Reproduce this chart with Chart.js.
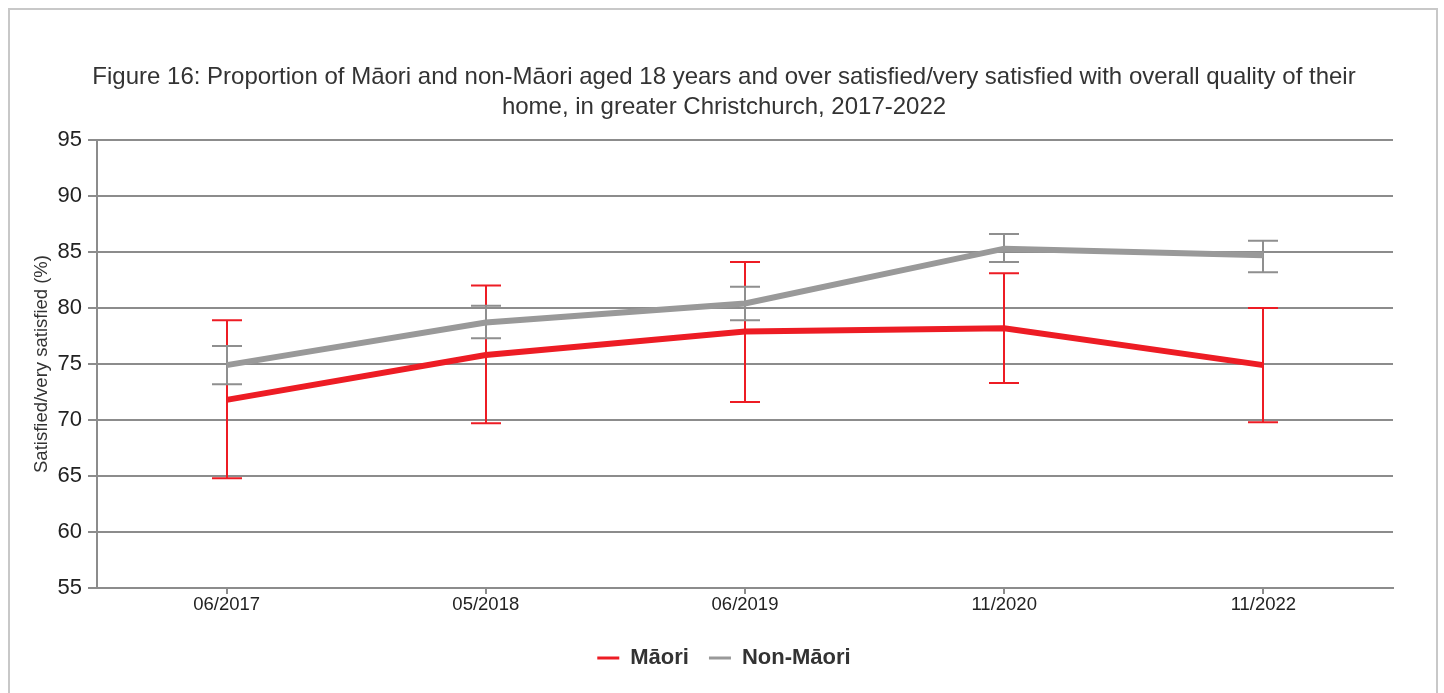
<!DOCTYPE html>
<html>
<head>
<meta charset="utf-8">
<script src="https://cdn.jsdelivr.net/npm/chart.js@4.4.0/dist/chart.umd.min.js"></script>
<style>
  html, body { margin:0; padding:0; background:#fff; overflow:hidden; }
  #frame { position:absolute; left:8px; top:8px; width:1426px; height:800px; border:2px solid #c8c8c8; }
  #chart { position:absolute; left:0; top:0; }
</style>
</head>
<body>
<div id="frame"></div>
<canvas id="chart" width="1444" height="693"></canvas>
<script>
// data
const categories = ['06/2017', '05/2018', '06/2019', '11/2020', '11/2022'];

const maori      = [71.8, 75.8, 77.9, 78.2, 74.9];
const maoriLow   = [64.8, 69.7, 71.6, 73.3, 69.8];
const maoriHigh  = [78.9, 82.0, 84.1, 83.1, 80.0];

const nonMaori     = [74.9, 78.7, 80.4, 85.3, 84.7];
const nonMaoriLow  = [73.2, 77.3, 78.9, 84.1, 83.2];
const nonMaoriHigh = [76.6, 80.2, 81.9, 86.6, 86.0];

const yTicks = [55, 60, 65, 70, 75, 80, 85, 90, 95];

const RED  = '#ed1c24';
const GREY = '#999999';
const GRID = '#8c8c8c';
const FONT = '"Liberation Sans", Arial, sans-serif';

// error bars, drawn under the lines
const errorBars = {
  id: 'errorBars',
  beforeDatasetsDraw(chart){
    const ctx = chart.ctx;
    const x = chart.scales.x, y = chart.scales.y;
    const sets = [
      {lo: maoriLow, hi: maoriHigh, color: RED},
      {lo: nonMaoriLow, hi: nonMaoriHigh, color: '#8f8f8f'}
    ];
    ctx.save();
    ctx.lineWidth = 2;
    sets.forEach(s => {
      ctx.strokeStyle = s.color;
      categories.forEach((c, i) => {
        const px = Math.round(x.getPixelForValue(i));
        const top = y.getPixelForValue(s.hi[i]);
        const bot = y.getPixelForValue(s.lo[i]);
        ctx.beginPath();
        ctx.moveTo(px, top); ctx.lineTo(px, bot);
        ctx.moveTo(px - 15, top); ctx.lineTo(px + 15, top);
        ctx.moveTo(px - 15, bot); ctx.lineTo(px + 15, bot);
        ctx.stroke();
      });
    });
    ctx.restore();
  }
};

new Chart(document.getElementById('chart'), {
  type: 'line',
  data: {
    labels: categories,
    datasets: [
      { label: 'Māori', data: maori, borderColor: RED, backgroundColor: RED,
        borderWidth: 6, pointRadius: 0, tension: 0, order: 1 },
      { label: 'Non-Māori', data: nonMaori, borderColor: GREY, backgroundColor: GREY,
        borderWidth: 6, pointRadius: 0, tension: 0, order: 0 }
    ]
  },
  options: {
    responsive: false,
    devicePixelRatio: 1,
    animation: false,
    layout: { padding: { left: 4, right: 0, top: 0, bottom: 14 } },
    plugins: {
      tooltip: { enabled: false },
      title: {
        display: true,
        text: ['Figure 16: Proportion of Māori and non-Māori aged 18 years and over satisfied/very satisfied with overall quality of their',
               'home, in greater Christchurch, 2017-2022'],
        color: '#333',
        font: { family: FONT, size: 24, weight: 'normal', lineHeight: 1.25 },
        padding: { top: 62, bottom: 18 }
      },
      legend: {
        position: 'bottom',
        labels: {
          color: '#333',
          font: { family: FONT, size: 22, weight: 'bold' },
          boxWidth: 22,
          boxHeight: 3,
          padding: 20,
          sort: (a, b) => a.datasetIndex - b.datasetIndex,
          generateLabels(chart){
            return Chart.defaults.plugins.legend.labels.generateLabels(chart)
              .map(l => Object.assign(l, { lineWidth: 0, fillStyle: l.strokeStyle }));
          }
        }
      }
    },
    scales: {
      x: {
        offset: true,
        afterFit(scale){ scale.height = 39; },
        grid: { drawOnChartArea: false, color: GRID, lineWidth: 2, tickLength: 6 },
        border: { color: GRID, width: 2 },
        ticks: { color: '#222', font: { family: FONT, size: 18.5 }, padding: 0, maxRotation: 0 }
      },
      y: {
        min: 55, max: 95,
        afterFit(scale){ scale.width = 93; },
        afterBuildTicks(scale){ scale.ticks = yTicks.map(v => ({ value: v })); },
        grid: { color: GRID, lineWidth: 2, tickLength: 9 },
        border: { color: GRID, width: 2 },
        ticks: { color: '#222', font: { family: FONT, size: 22 }, padding: 6 },
        title: {
          display: true,
          text: 'Satisfied/very satisfied (%)',
          color: '#333',
          font: { family: FONT, size: 18.5 },
          padding: { top: 27, bottom: 0 }
        }
      },
      // empty right-hand box so the plot stops where the original does
      yr: {
        position: 'right',
        afterFit(scale){ scale.width = 51; },
        grid: { display: false },
        border: { display: false },
        ticks: { display: false }
      }
    }
  },
  plugins: [errorBars]
});
</script>
</body>
</html>
